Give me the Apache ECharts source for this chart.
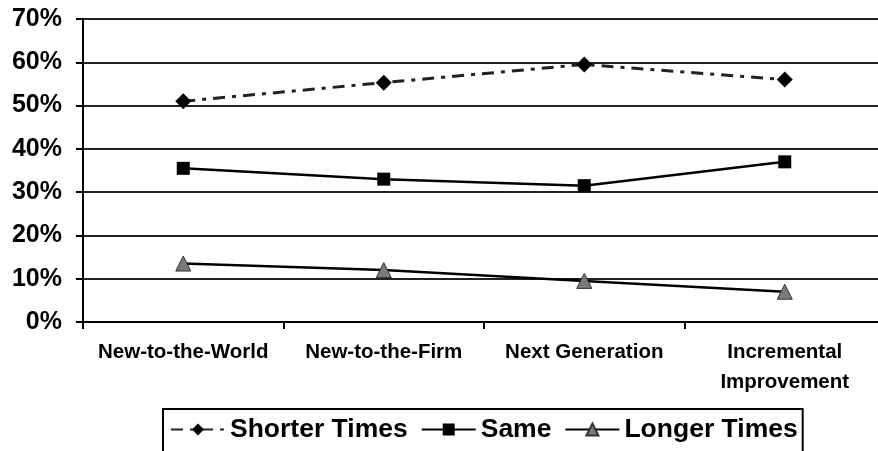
<!DOCTYPE html>
<html><head><meta charset="utf-8">
<script src="https://cdn.jsdelivr.net/npm/echarts@6/dist/echarts.min.js"></script>
<style>html,body{margin:0;padding:0;background:#fff}#c{width:878px;height:451px}</style>
</head><body><div id="c"></div>
<script>
const categories = ['New-to-the-World', 'New-to-the-Firm', 'Next Generation', 'Incremental\nImprovement'];
const shorterTimes = [51, 55.3, 59.5, 56];
const sameTimes = [35.5, 33, 31.5, 37];
const longerTimes = [13.5, 12, 9.5, 7];
const yTicks = [0, 10, 20, 30, 40, 50, 60, 70];

const chart = echarts.init(document.getElementById('c'));
const font = 'Liberation Sans, Arial, sans-serif';
chart.setOption({
  animation: false,
  grid: { left: 83, top: 19, width: 802, height: 303, containLabel: false, outerBoundsMode: 'none' },
  xAxis: {
    type: 'category', data: categories, boundaryGap: true,
    axisLine: { lineStyle: { color: '#000', width: 2 } },
    axisTick: { show: true, length: 7, lineStyle: { color: '#000', width: 2 } },
    axisLabel: { color: '#000', fontFamily: font, fontWeight: 'bold', fontSize: 20.5, margin: 15, lineHeight: 30, interval: 0 }
  },
  yAxis: {
    type: 'value', min: yTicks[0], max: yTicks[yTicks.length - 1], interval: 10,
    axisLine: { show: true, lineStyle: { color: '#000', width: 2 } },
    axisTick: { show: true, length: 7, lineStyle: { color: '#000', width: 2 } },
    splitLine: { lineStyle: { color: '#222', width: 2 } },
    axisLabel: { color: '#000', fontFamily: font, fontWeight: 'bold', fontSize: 25, margin: 21, formatter: v => v + '%' }
  },
  legend: {
    left: 163, top: 409,
    borderColor: '#000', borderWidth: 2,
    padding: [7, 5, 14, 7],
    itemGap: 13, itemWidth: 54, itemHeight: 15,
    textStyle: { color: '#000', fontFamily: font, fontWeight: 'bold', fontSize: 26.5 },
    data: ['Shorter Times', 'Same', 'Longer Times']
  },
  series: [
    {
      name: 'Shorter Times', type: 'line', data: shorterTimes,
      symbol: 'diamond', symbolSize: 16,
      itemStyle: { color: '#000' },
      lineStyle: { color: '#222', width: 3, type: [12, 7, 4, 7] }
    },
    {
      name: 'Same', type: 'line', data: sameTimes,
      symbol: 'rect', symbolSize: 13,
      itemStyle: { color: '#000' },
      lineStyle: { color: '#000', width: 2.5 }
    },
    {
      name: 'Longer Times', type: 'line', data: longerTimes,
      symbol: 'triangle', symbolSize: 15,
      itemStyle: { color: '#7a7a7a', borderColor: '#333', borderWidth: 1 },
      lineStyle: { color: '#000', width: 2.5 }
    }
  ]
});
</script></body></html>
